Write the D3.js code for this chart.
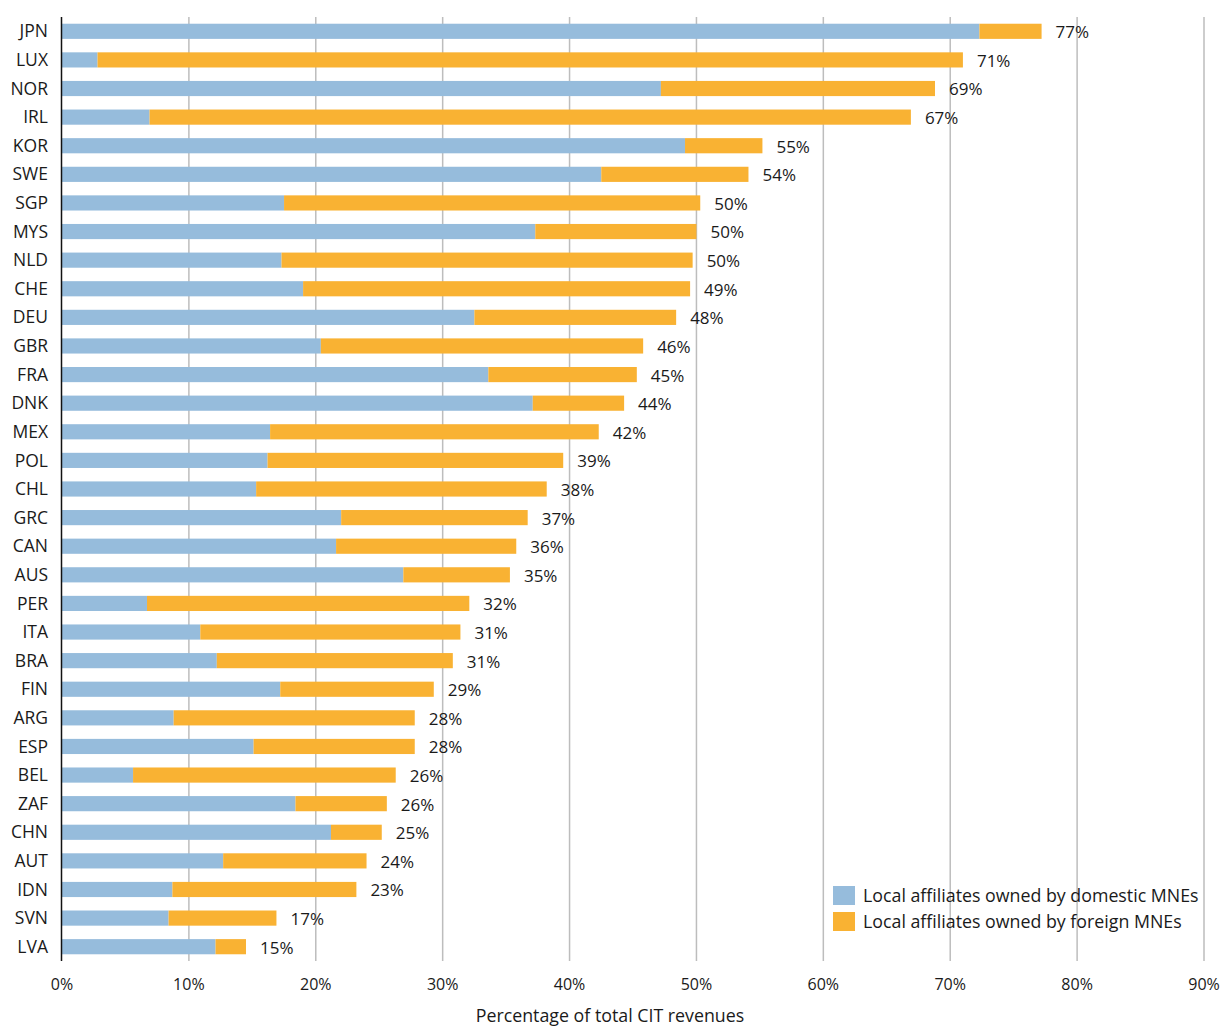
<!DOCTYPE html>
<html>
<head>
<meta charset="utf-8">
<script src="https://cdn.jsdelivr.net/npm/d3@7"></script>
<style>
  html, body { margin: 0; padding: 0; background: #fff; }
  svg { display: block; font-family: "Open Sans", "Noto Sans", sans-serif; }
</style>
</head>
<body>
<svg id="chart" width="1227" height="1027"></svg>
<script>
const countries = ["JPN","LUX","NOR","IRL","KOR","SWE","SGP","MYS","NLD","CHE","DEU","GBR","FRA","DNK","MEX","POL","CHL","GRC","CAN","AUS","PER","ITA","BRA","FIN","ARG","ESP","BEL","ZAF","CHN","AUT","IDN","SVN","LVA"];
const domestic = [72.3,2.8,47.2,6.9,49.1,42.5,17.5,37.3,17.3,19.0,32.5,20.4,33.6,37.1,16.4,16.2,15.3,22.0,21.6,26.9,6.7,10.9,12.2,17.2,8.8,15.1,5.6,18.4,21.2,12.7,8.7,8.4,12.1];
const foreign = [4.9,68.2,21.6,60.0,6.1,11.6,32.8,12.7,32.4,30.5,15.9,25.4,11.7,7.2,25.9,23.3,22.9,14.7,14.2,8.4,25.4,20.5,18.6,12.1,19.0,12.7,20.7,7.2,4.0,11.3,14.5,8.5,2.4];
const totalLabels = ["77%","71%","69%","67%","55%","54%","50%","50%","50%","49%","48%","46%","45%","44%","42%","39%","38%","37%","36%","35%","32%","31%","31%","29%","28%","28%","26%","26%","25%","24%","23%","17%","15%"];
const ticks = [0,10,20,30,40,50,60,70,80,90];
const seriesNames = ["Local affiliates owned by domestic MNEs","Local affiliates owned by foreign MNEs"];
const colors = ["#96bcdc","#f9b233"];

(function () {
const svg = d3.select("#chart");
const mLeft = 62, mRight = 1204, mTop = 17, mBottom = 961;

const x = d3.scaleLinear().domain([0, 90]).range([mLeft, mRight]);
const y = d3.scaleBand().domain(countries).range([mTop, mBottom]).paddingInner(0.47).paddingOuter(0.235);

// gridlines
svg.append("g").selectAll("line").data(ticks.slice(1)).join("line")
  .attr("x1", d => x(d)).attr("x2", d => x(d))
  .attr("y1", mTop).attr("y2", mBottom)
  .attr("stroke", "#bdbdbd").attr("stroke-width", 1.5);

const rows = countries.map((c, i) => ({c, d: domestic[i], f: foreign[i], label: totalLabels[i]}));

// bars
const g = svg.append("g");
g.selectAll("rect.dom").data(rows).join("rect").attr("class","dom")
  .attr("x", x(0)).attr("y", r => y(r.c))
  .attr("width", r => x(r.d) - x(0)).attr("height", y.bandwidth())
  .attr("fill", colors[0]);
g.selectAll("rect.for").data(rows).join("rect").attr("class","for")
  .attr("x", r => x(r.d)).attr("y", r => y(r.c))
  .attr("width", r => x(r.d + r.f) - x(r.d)).attr("height", y.bandwidth())
  .attr("fill", colors[1]);

// value labels
g.selectAll("text.val").data(rows).join("text").attr("class","val")
  .attr("x", r => x(r.d + r.f) + 14)
  .attr("y", r => y(r.c) + y.bandwidth()/2 + 1)
  .attr("dy", "0.35em")
  .attr("font-size", 17).attr("fill", "#1a1a1a")
  .text(r => r.label);

// y axis line
svg.append("line").attr("x1", mLeft - 0.5).attr("x2", mLeft - 0.5)
  .attr("y1", mTop).attr("y2", mBottom)
  .attr("stroke", "#111").attr("stroke-width", 1.5);

// category labels
svg.append("g").selectAll("text").data(countries).join("text")
  .attr("x", 48).attr("y", c => y(c) + y.bandwidth()/2)
  .attr("dy", "0.35em").attr("text-anchor", "end")
  .attr("font-size", 17.5).attr("fill", "#1a1a1a")
  .text(c => c);

// x tick labels
svg.append("g").selectAll("text").data(ticks).join("text")
  .attr("x", d => x(d)).attr("y", 984)
  .attr("dy", "0.35em").attr("text-anchor", "middle")
  .attr("font-size", 16).attr("fill", "#1a1a1a")
  .text(d => d + "%");

// x axis title
svg.append("text").attr("x", 610).attr("y", 1016).attr("dy", "0.35em")
  .attr("text-anchor", "middle").attr("font-size", 17.8).attr("fill", "#1a1a1a")
  .text("Percentage of total CIT revenues");

// legend
const lg = svg.append("g").attr("transform", "translate(833,886)");
seriesNames.forEach((n, i) => {
  lg.append("rect").attr("x", 0).attr("y", i * 26).attr("width", 22).attr("height", 19).attr("fill", colors[i]);
  lg.append("text").attr("x", 30).attr("y", i * 26 + 10).attr("dy", "0.35em")
    .attr("font-size", 17.8).attr("fill", "#1a1a1a").text(n);
});
})();
</script>
</body>
</html>
